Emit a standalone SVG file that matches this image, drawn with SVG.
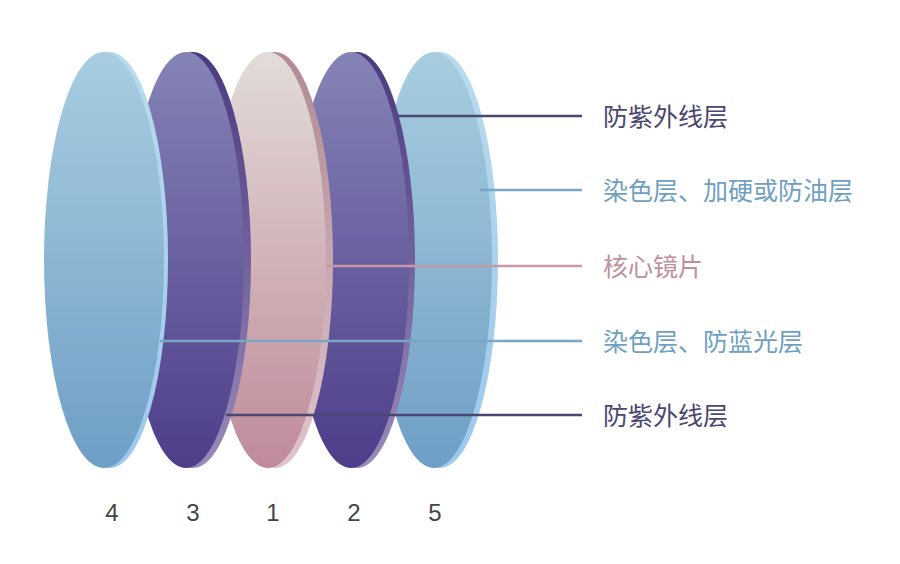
<svg xmlns="http://www.w3.org/2000/svg" width="900" height="564" viewBox="0 0 900 564">
<defs>
<linearGradient id="gb" x1="0" y1="0" x2="0" y2="1"><stop offset="0" stop-color="#a8cde0"/><stop offset="1" stop-color="#6f9fc6"/></linearGradient>
<linearGradient id="gbe" x1="0" y1="0" x2="0" y2="1"><stop offset="0" stop-color="#b8dcee"/><stop offset="1" stop-color="#9cc8ee"/></linearGradient>
<linearGradient id="gp" x1="0" y1="0" x2="0" y2="1"><stop offset="0" stop-color="#8584b6"/><stop offset="1" stop-color="#4e3d8a"/></linearGradient>
<linearGradient id="gpe" x1="0" y1="0" x2="0" y2="1"><stop offset="0" stop-color="#4a3a80"/><stop offset="1" stop-color="#9a8ab8"/></linearGradient>
<linearGradient id="gk" x1="0" y1="0" x2="0" y2="1"><stop offset="0" stop-color="#e2dcd8"/><stop offset="1" stop-color="#c08a9a"/></linearGradient>
<linearGradient id="gke" x1="0" y1="0" x2="0" y2="1"><stop offset="0" stop-color="#b08a94"/><stop offset="1" stop-color="#e0c4cc"/></linearGradient>
</defs>
<style>
.t{font-family:"Noto Sans CJK SC","Noto Sans",sans-serif;font-size:25px}
.n{font-family:"Liberation Sans",sans-serif;font-size:24px;fill:#444;text-anchor:middle}
line{stroke-width:2.5}
</style>
<rect width="900" height="564" fill="#fff"/>
<g id="disc5"><ellipse cx="440" cy="260" rx="58" ry="208" fill="url(#gbe)"/><ellipse cx="434" cy="260" rx="58" ry="208" fill="url(#gb)"/></g>
<g id="disc2"><ellipse cx="357" cy="260" rx="58" ry="208" fill="url(#gpe)"/><ellipse cx="351" cy="260" rx="58" ry="208" fill="url(#gp)"/></g>
<g id="disc1"><ellipse cx="275" cy="260" rx="58" ry="208" fill="url(#gke)"/><ellipse cx="268" cy="260" rx="58" ry="208" fill="url(#gk)"/></g>
<g id="disc3"><ellipse cx="193" cy="260" rx="58" ry="208" fill="url(#gpe)"/><ellipse cx="186" cy="260" rx="58" ry="208" fill="url(#gp)"/></g>
<g id="disc4"><ellipse cx="110" cy="260" rx="58" ry="208" fill="url(#gbe)"/><ellipse cx="104" cy="260" rx="60" ry="208" fill="url(#gb)"/></g>
<g id="connectors">
<line x1="397" y1="116" x2="582" y2="116" stroke="#4a4872"/>
<line x1="480" y1="190" x2="582" y2="190" stroke="#78a6c4"/>
<line x1="327" y1="266" x2="582" y2="266" stroke="#c49aa6"/>
<line x1="160" y1="341" x2="582" y2="341" stroke="#78a6c4"/>
<line x1="226" y1="415" x2="582" y2="415" stroke="#4a4872"/>
</g>
<g id="labels">
<text class="t" x="603" y="126" fill="#4a4872">防紫外线层</text>
<text class="t" x="603" y="200" fill="#6f9fc2">染色层、加硬或防油层</text>
<text class="t" x="603" y="276" fill="#c0909e">核心镜片</text>
<text class="t" x="603" y="351" fill="#6f9fc2">染色层、防蓝光层</text>
<text class="t" x="603" y="425" fill="#4a4872">防紫外线层</text>
<text class="n" x="112" y="521">4</text>
<text class="n" x="193" y="521">3</text>
<text class="n" x="273" y="521">1</text>
<text class="n" x="354" y="521">2</text>
<text class="n" x="435" y="521">5</text>
</g>
</svg>
